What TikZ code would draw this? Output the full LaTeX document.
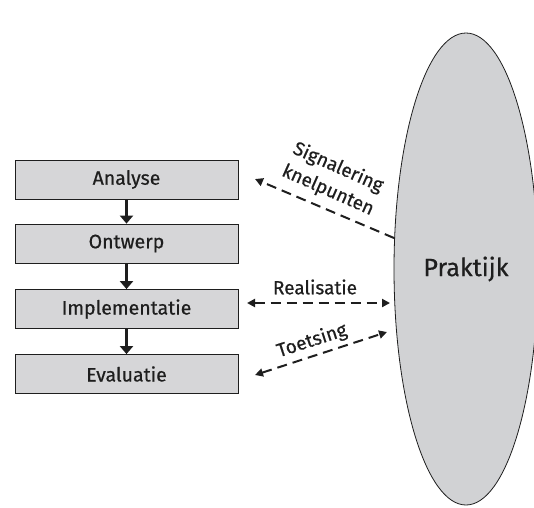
\documentclass[tikz,border=0pt]{standalone}
\usepackage{fontspec}
\setmainfont[FakeBold=0.6]{Fira Sans}
\usetikzlibrary{arrows.meta,shapes.geometric}
\definecolor{boxgray}{RGB}{214,214,216}
\definecolor{ellgray}{RGB}{209,210,212}
\definecolor{ink}{RGB}{30,30,30}
\begin{document}
\begin{tikzpicture}[x=1pt,y=-1pt,
  stepbox/.style={draw=ink, fill=boxgray, line width=0.8pt, minimum width=223pt, minimum height=39pt, inner sep=0pt, text=ink, font=\fontsize{19.5}{22}\selectfont},
  flow/.style={draw=ink, line width=2.6pt, -{Triangle[width=13pt,length=8pt]}},
  dasharr/.style={draw=ink, line width=2pt, dash pattern=on 10pt off 6pt},
  tipA/.style={-{Triangle[width=8pt,length=8pt]}},
  tipB/.style={{Triangle[width=8pt,length=8pt]}-{Triangle[width=8pt,length=8pt]}},
  lbl/.style={text=ink, font=\fontsize{19}{25}\selectfont, inner sep=0pt}
]
\useasboundingbox (0,0) rectangle (534,507);
\node[ellipse, draw=ink, fill=ellgray, line width=0.8pt, minimum width=144pt, minimum height=472pt, inner sep=0pt, text=ink, font=\fontsize{25}{28}\selectfont] (P) at (466,269) {Praktijk};

\node[stepbox] (A) at (126.5,179.5) {Analyse};
\node[stepbox] (O) at (126.5,243.5) {Ontwerp};
\node[stepbox] (I) at (126.5,309) {Implementatie};
\node[stepbox] (E) at (126.5,374) {Evaluatie};

\draw[flow] (A) -- (O);
\draw[flow] (O) -- (I);
\draw[flow] (I) -- (E);

\coordinate (s1) at (394,238);
\coordinate (s2) at (255,179);
\coordinate (r1) at (247,303);
\coordinate (r2) at (390,303);
\coordinate (t1) at (255,375);
\coordinate (t2) at (387,332);

\draw[dasharr, tipA] (s1) -- (s2);
\draw[dasharr, tipB] (r1) -- (r2);
\draw[dasharr, tipB] (t1) -- (t2);

\node[lbl, align=center, rotate=-24] (sl) at (333,179) {Signalering\\knelpunten};
\node[lbl] (rl) at (315,287) {Realisatie};
\node[lbl, rotate=18] (tl) at (312,341) {Toetsing};
\end{tikzpicture}
\end{document}
